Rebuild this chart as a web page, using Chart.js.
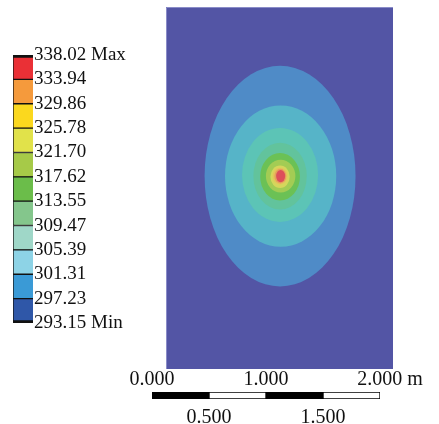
<!DOCTYPE html>
<html>
<head>
<meta charset="utf-8">
<script src="https://cdn.jsdelivr.net/npm/chart.js@4.4.1/dist/chart.umd.min.js"></script>
<style>
  body { margin: 0; background: #fff; }
  #wrap { position: relative; width: 439px; height: 424px; overflow: hidden; }
  canvas { position: absolute; }
</style>
</head>
<body>
<div id="wrap">
  <canvas id="legend" width="160" height="300" style="left:0;top:40px"></canvas>
  <canvas id="field" width="227" height="362" style="left:166px;top:7px"></canvas>
  <canvas id="scalebar" width="319" height="59" style="left:120px;top:365px"></canvas>
</div>
<script>
// contour levels (K), min -> max
const levels = [293.15, 297.23, 301.31, 305.39, 309.47, 313.55, 317.62, 321.70, 325.78, 329.86, 333.94, 338.02];

// contour bands seen in the plate (m)
const bandFrom   = [297.23, 301.31, 305.39, 309.47, 313.55, 317.62, 321.70, 325.78, 329.86, 333.94];
const bandLeft   = [0.34, 0.52, 0.67, 0.77, 0.83, 0.88, 0.92, 0.94, 0.955, 0.97];
const bandRight  = [1.67, 1.50, 1.34, 1.24, 1.18, 1.14, 1.09, 1.07, 1.06, 1.05];
const bandBottom = [0.73, 1.08, 1.30, 1.41, 1.49, 1.56, 1.60, 1.63, 1.64, 1.65];
const bandTop    = [2.68, 2.33, 2.13, 2.00, 1.91, 1.85, 1.80, 1.78, 1.77, 1.76];

// scale bar
const scaleStops = [0, 0.5, 1.0, 1.5, 2.0];
const scaleTopTicks = [0, 1, 2];
const scaleBottomTicks = [0.5, 1.5];

const legendColors = ['#2f57a8', '#3a9ad6', '#8dd3e6', '#9fd7c8', '#84c68c', '#6bbd4a',
                      '#a6ca48', '#e1e24a', '#fbd81e', '#f59a3c', '#ea3036'];
const fieldBase = '#5355a5';
const fieldColors = ['#4f8bc7', '#56b4c8', '#5cc4b6', '#62c39c', '#6bc155', '#a3cc54',
                     '#d5d65c', '#e6c25a', '#e3a05c', '#dd4f5a'];

const serif = 'Liberation Serif';

// legend colour bar
new Chart(document.getElementById('legend'), {
  type: 'bar',
  data: {
    labels: [''],
    datasets: levels.slice(0, -1).map((lo, i) => ({
      data: [[lo, levels[i + 1]]],
      backgroundColor: legendColors[i],
      borderColor: '#111',
      borderWidth: { left: 1, right: 0, top: i === levels.length - 2 ? 3 : 1, bottom: i === 0 ? 3 : 1 },
      borderSkipped: false,
      barPercentage: 1,
      categoryPercentage: 1,
      grouped: false
    }))
  },
  options: {
    responsive: false,
    animation: false,
    layout: { padding: { left: 13, top: 15, bottom: 17, right: 0 } },
    plugins: { legend: { display: false }, tooltip: { enabled: false } },
    scales: {
      x: { display: false },
      y: {
        position: 'right',
        min: levels[0],
        max: levels[levels.length - 1],
        grid: { display: false, drawTicks: false },
        border: { display: false },
        afterBuildTicks: s => { s.ticks = levels.map(v => ({ value: v })); },
        afterFit: s => { s.width = 127; },
        ticks: {
          autoSkip: false,
          padding: 1,
          color: '#111',
          font: { family: serif, size: 19 },
          callback: (v, i) => levels[i].toFixed(2) +
            (i === levels.length - 1 ? ' Max' : i === 0 ? ' Min' : '')
        }
      }
    }
  }
});

// contour plate
const ellipseBands = {
  id: 'ellipseBands',
  beforeDatasetsDraw(chart) {
    const { ctx, chartArea: a } = chart;
    ctx.save();
    ctx.fillStyle = fieldBase;
    ctx.fillRect(a.left, a.top, a.right - a.left, a.bottom - a.top);
    chart.data.datasets.forEach((ds, i) => {
      const pts = chart.getDatasetMeta(i).data;
      const p0 = pts[0], p1 = pts[1];
      ctx.beginPath();
      ctx.ellipse((p0.x + p1.x) / 2, (p0.y + p1.y) / 2,
        Math.abs(p1.x - p0.x) / 2, Math.abs(p1.y - p0.y) / 2, 0, 0, Math.PI * 2);
      ctx.fillStyle = ds.backgroundColor;
      ctx.fill();
    });
    ctx.strokeStyle = '#8a8cc8';
    ctx.lineWidth = 1;
    ctx.beginPath();
    ctx.moveTo(a.left + 0.5, a.bottom);
    ctx.lineTo(a.left + 0.5, a.top + 0.5);
    ctx.lineTo(a.right, a.top + 0.5);
    ctx.stroke();
    ctx.restore();
  }
};

new Chart(document.getElementById('field'), {
  type: 'scatter',
  data: {
    datasets: bandFrom.map((v, i) => ({
      label: v.toFixed(2),
      data: [{ x: bandLeft[i], y: bandBottom[i] }, { x: bandRight[i], y: bandTop[i] }],
      pointRadius: 0,
      backgroundColor: fieldColors[i]
    }))
  },
  options: {
    responsive: false,
    animation: false,
    layout: { padding: 0 },
    plugins: { legend: { display: false }, tooltip: { enabled: false } },
    scales: {
      x: { display: false, min: 0, max: 2 },
      y: { display: false, min: 0, max: 3.2 }
    }
  },
  plugins: [ellipseBands]
});

// scale bar
const tickFont = { family: serif, size: 20 };
new Chart(document.getElementById('scalebar'), {
  type: 'bar',
  data: {
    labels: [''],
    datasets: scaleStops.slice(0, -1).map((s, i) => ({
      data: [[s, scaleStops[i + 1]]],
      backgroundColor: i % 2 ? '#fff' : '#000',
      borderColor: '#000',
      borderWidth: 1,
      borderSkipped: false,
      barPercentage: 1,
      categoryPercentage: 1,
      grouped: false
    }))
  },
  options: {
    indexAxis: 'y',
    responsive: false,
    animation: false,
    layout: { padding: { left: 32, right: 59, top: 0, bottom: 0 } },
    plugins: { legend: { display: false }, tooltip: { enabled: false } },
    scales: {
      y: { display: false },
      x: {
        position: 'bottom',
        min: 0, max: 2,
        grid: { display: false, drawTicks: false },
        border: { display: false },
        afterBuildTicks: s => { s.ticks = scaleBottomTicks.map(v => ({ value: v })); },
        afterFit: s => { s.height = 25; },
        ticks: { autoSkip: false, padding: 7, color: '#111', font: tickFont, maxRotation: 0,
                 callback: (v, i) => scaleBottomTicks[i].toFixed(3) }
      },
      x2: {
        position: 'top',
        min: 0, max: 2,
        grid: { display: false, drawTicks: false },
        border: { display: false },
        afterBuildTicks: s => { s.ticks = scaleTopTicks.map(v => ({ value: v })); },
        afterFit: s => { s.height = 27; },
        ticks: { autoSkip: false, padding: 0, color: '#111', font: tickFont, maxRotation: 0,
                 callback: (v, i) => i === scaleTopTicks.length - 1
                   ? '    ' + scaleTopTicks[i].toFixed(3) + ' m'
                   : scaleTopTicks[i].toFixed(3) }
      }
    }
  }
});
</script>
</body>
</html>
